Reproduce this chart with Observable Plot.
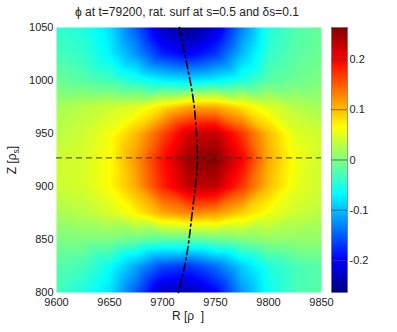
<!DOCTYPE html>
<html><head><meta charset="utf-8">
<script src="https://cdn.jsdelivr.net/npm/d3@7"></script>
<script src="https://cdn.jsdelivr.net/npm/@observablehq/plot@0.6"></script>
<style>
body{margin:0;background:#fff;}
#wrap{position:relative;width:397px;height:332px;font-family:"Liberation Sans",Arial,sans-serif;}
#wrap svg{position:absolute;left:0;top:0;}
</style></head><body><div id="wrap"></div>
<script>
// ---- data ----
const R = [9600, 9625, 9650, 9675, 9700, 9725, 9750, 9775, 9800, 9825, 9850];
const Z = [1050, 1025, 1000, 975, 950, 925, 900, 875, 850, 825, 800];
const phi = [
  [-0.04, -0.05, -0.08, -0.15, -0.23, -0.26, -0.22, -0.13, -0.05, -0.025, -0.015],
  [-0.03, -0.04, -0.07, -0.12, -0.18, -0.20, -0.17, -0.10, -0.04, -0.02, -0.01],
  [-0.01, -0.02, -0.03, -0.05, -0.07, -0.08, -0.07, -0.05, -0.02, -0.01,  0.00],
  [ 0.02,  0.03,  0.04,  0.05,  0.08,  0.11,  0.11,  0.08,  0.05,  0.03,  0.02],
  [ 0.03,  0.04,  0.06,  0.10,  0.16,  0.22,  0.23,  0.17,  0.10,  0.05,  0.04],
  [ 0.04,  0.045, 0.065, 0.12, 0.19,  0.25,  0.26,  0.20,  0.11,  0.06,  0.04],
  [ 0.04,  0.045, 0.065, 0.11, 0.18,  0.23,  0.23,  0.17,  0.10,  0.055, 0.04],
  [ 0.02,  0.03,  0.045, 0.07,  0.11,  0.13,  0.12,  0.09,  0.06,  0.04,  0.03],
  [ 0.00,  0.00,  0.00, -0.01, -0.02, -0.02, -0.01,  0.00,  0.01,  0.01,  0.01],
  [-0.02, -0.03, -0.06, -0.11, -0.16, -0.17, -0.14, -0.09, -0.05, -0.03, -0.02],
  [-0.03, -0.05, -0.08, -0.15, -0.23, -0.24, -0.20, -0.12, -0.06, -0.03, -0.02]
];
const surfZ = [1050, 1025, 1000, 975, 950, 925, 900, 875, 850, 825, 800];
const surfR = [9716, 9721, 9726, 9730, 9732, 9733, 9731, 9728, 9725, 9721, 9715];
const refZ = 927;
const xTicks = [9600, 9650, 9700, 9750, 9800, 9850];
const yTicks = [800, 850, 900, 950, 1000, 1050];
const cbTicks = [-0.2, -0.1, 0, 0.1, 0.2];
const cbDomain = [-0.2635, 0.2635];
const titleText = "ϕ at t=79200, rat. surf at s=0.5 and δs=0.1";
const xLabel = "R [ρ  ]";
const yLabelMain = "Z [ρ";
const yLabelSub = "s";

// jet colormap
const jet = t => {
  const c = v => Math.round(255 * Math.max(0, Math.min(1, v)));
  return `rgb(${c(1.5 - Math.abs(4 * t - 3))},${c(1.5 - Math.abs(4 * t - 2))},${c(1.5 - Math.abs(4 * t - 1))})`;
};

const cells = [];
Z.forEach((z, i) => R.forEach((r, j) => cells.push({r, z, v: phi[i][j]})));
const surf = surfZ.map((z, i) => ({z, r: surfR[i]}));

const font = "'Liberation Sans', Arial, sans-serif";

const main = Plot.plot({
  width: 397, height: 332,
  marginLeft: 56, marginRight: 76, marginTop: 27, marginBottom: 40,
  style: {fontFamily: font, fontSize: "11px", color: "#222", background: "transparent", overflow: "visible"},
  x: {domain: [9600, 9850]},
  y: {domain: [800, 1050]},
  color: {type: "linear", domain: cbDomain, interpolate: jet},
  marks: [
    Plot.raster(cells, {x: "r", y: "z", fill: "v", x1: 9600, x2: 9850, y1: 800, y2: 1050, interpolate: "barycentric", pixelSize: 1}),
    Plot.ruleY([refZ], {stroke: "#333", strokeWidth: 1, strokeDasharray: "6,4"}),
    Plot.line(surf, {x: "r", y: "z", curve: "natural", stroke: "black", strokeWidth: 1.6, strokeDasharray: "8,3.5,2,3.5"}),
    Plot.axisX({ticks: xTicks, tickSize: 0, tickPadding: 6, tickFormat: d => String(d), label: null}),
    Plot.axisY({ticks: yTicks, tickSize: 0, tickPadding: 3, tickFormat: d => String(d), label: null})
  ]
});

const cb = Plot.plot({
  width: 397, height: 332,
  marginLeft: 331, marginRight: 50, marginTop: 27, marginBottom: 40,
  style: {fontFamily: font, fontSize: "11px", color: "#222", background: "transparent", overflow: "visible"},
  x: {domain: [0, 1], axis: null},
  y: {domain: cbDomain},
  color: {type: "linear", domain: cbDomain, interpolate: jet},
  marks: [
    Plot.raster({x1: 0, x2: 1, y1: cbDomain[0], y2: cbDomain[1], fill: (x, y) => y, pixelSize: 1}),
    Plot.frame({stroke: "#666", strokeWidth: 0.6}),
    Plot.tickY(cbTicks, {y: d => d, x1: 0, x2: 0.18, stroke: "#444", strokeWidth: 0.7}),
    Plot.axisY({anchor: "right", ticks: cbTicks, tickSize: 0, tickPadding: 2, tickFormat: d => String(d), label: null})
  ]
});

const wrap = document.getElementById("wrap");
wrap.appendChild(main);
wrap.appendChild(cb);

const svg = d3.select(main);
svg.append("text").attr("x", 187).attr("y", 16).attr("text-anchor", "middle")
  .attr("font-family", font).attr("font-size", 12).attr("fill", "#222").text(titleText);
svg.append("text").attr("x", 188).attr("y", 320).attr("text-anchor", "middle")
  .attr("font-family", font).attr("font-size", 12).attr("fill", "#222").attr("xml:space", "preserve")
  .style("white-space", "pre").text(xLabel);
const yl = svg.append("text").attr("transform", "translate(16,160) rotate(-90)").attr("text-anchor", "middle")
  .attr("font-family", font).attr("font-size", 12).attr("fill", "#222");
yl.append("tspan").text(yLabelMain);
yl.append("tspan").attr("font-size", 8.5).attr("dy", 3).text(yLabelSub);
yl.append("tspan").attr("dy", -3).text("]");
</script>
</body></html>
